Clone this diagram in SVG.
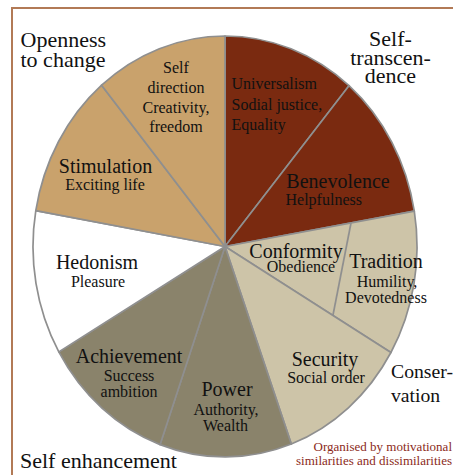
<svg xmlns="http://www.w3.org/2000/svg" width="453" height="475" viewBox="0 0 453 475" font-family="Liberation Serif, DejaVu Serif, serif">
<style>
.w{stroke:#8f8f8f;stroke-width:1.7;stroke-linejoin:round}
.red{fill:#7a2a10}
.tan{fill:#c9a26c}
.beige{fill:#cdc4a8}
.olive{fill:#8a836b}
.white{fill:#ffffff}
text{font-family:'Liberation Serif','DejaVu Serif',serif;fill:#111}
.h{font-size:20px;text-anchor:middle}
.s{font-size:16px;text-anchor:middle}
.g{font-size:22px}
.note{font-size:13px;fill:#8b2a1a;text-anchor:end}
.frame{stroke:#b27a56;stroke-width:2;fill:none}
</style>
<rect width="453" height="475" fill="#ffffff"/>
<path class="frame" d="M12 475 V8 H453"/>
<g id="universalism">
<path class="w red" d="M225 246.5 L225 36 A192 210.5 0 0 1 349 85.7 Z"/>
<text x="231.5" y="89.3" font-size="16">Universalism</text>
<text x="231.5" y="110" font-size="16">Sodial justice,</text>
<text x="231.5" y="130" font-size="16">Equality</text>
</g>
<g id="benevolence">
<path class="w red" d="M225 246.5 L349 85.7 A192 210.5 0 0 1 414.3 211.1 Z"/>
<text class="h" x="338" y="188.3">Benevolence</text>
<text x="285.5" y="204.5" font-size="16">Helpfulness</text>
</g>
<g id="conformity">
<path class="w beige" d="M225 246.5 L414.3 211.1 A192 210.5 0 0 1 390.9 352.5 Z"/>
<text class="h" x="296" y="257.7">Conformity</text>
<text class="s" x="301" y="271.7">Obedience</text>
</g>
<g id="tradition">
<text class="h" x="386" y="268.3">Tradition</text>
<text class="s" x="387" y="286.7">Humility,</text>
<text class="s" x="386" y="302.7">Devotedness</text>
</g>
<g id="security">
<path class="w beige" d="M225 246.5 L390.9 352.5 A192 210.5 0 0 1 291.3 444 Z"/>
<text class="h" x="325" y="366">Security</text>
<text class="s" x="326" y="382.7">Social order</text>
</g>
<g id="power">
<path class="w olive" d="M225 246.5 L291.3 444 A192 210.5 0 0 1 160.1 444.6 Z"/>
<text class="h" x="227" y="396">Power</text>
<text class="s" x="226" y="415">Authority,</text>
<text class="s" x="225.5" y="431">Wealth</text>
</g>
<g id="achievement">
<path class="w olive" d="M225 246.5 L160.1 444.6 A192 210.5 0 0 1 58.8 351.9 Z"/>
<text class="h" x="129" y="363.3">Achievement</text>
<text class="s" x="129" y="380.7">Success</text>
<text class="s" x="129" y="397.3">ambition</text>
</g>
<g id="hedonism">
<path class="w white" d="M225 246.5 L58.8 351.9 A192 210.5 0 0 1 35.8 210.6 Z"/>
<text class="h" x="97" y="269.3">Hedonism</text>
<text class="s" x="98" y="286.7">Pleasure</text>
</g>
<g id="stimulation">
<path class="w tan" d="M225 246.5 L35.8 210.6 A192 210.5 0 0 1 101.6 85.2 Z"/>
<text class="h" x="105.5" y="172.7" font-size="19">Stimulation</text>
<text class="s" x="105" y="190">Exciting life</text>
</g>
<g id="self-direction">
<path class="w tan" d="M225 246.5 L101.6 85.2 A192 210.5 0 0 1 225 36 Z"/>
<text class="s" x="176" y="72.7">Self</text>
<text class="s" x="176" y="92.7">direction</text>
<text class="s" x="176" y="112.7">Creativity,</text>
<text class="s" x="176" y="131.7">freedom</text>
</g>
<g id="connectors">
<line class="w" x1="351" y1="223" x2="333" y2="315"/>
</g>
<g id="labels">
<text class="g" x="20.5" y="46.7">Openness</text>
<text class="g" x="20.5" y="66.7">to change</text>
<text class="g" x="390.5" y="45.7" text-anchor="middle">Self-</text>
<text class="g" x="390.5" y="64.5" text-anchor="middle">transcen-</text>
<text class="g" x="390.5" y="83.3" text-anchor="middle">dence</text>
<text x="391" y="377.7" font-size="19.7">Conser-</text>
<text x="391" y="401.7" font-size="19.7">vation</text>
<text class="g" x="20" y="468.3" font-size="21.5">Self enhancement</text>
<text class="note" x="452" y="451">Organised by motivational</text>
<text class="note" x="452" y="465">similarities and dissimilarities</text>
</g>
</svg>
